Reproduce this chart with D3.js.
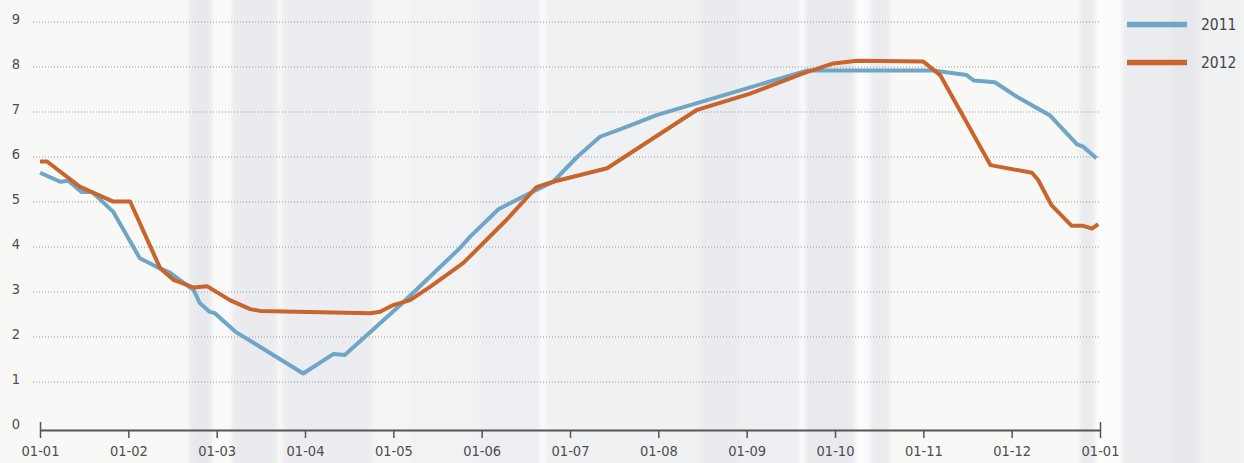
<!DOCTYPE html>
<html>
<head>
<meta charset="utf-8">
<script src="https://cdn.jsdelivr.net/npm/d3@7"></script>
<style>
  html, body { margin: 0; padding: 0; background: #f6f6f6; }
  svg { display: block; font-family: "DejaVu Sans Condensed", "DejaVu Sans", sans-serif; }
</style>
</head>
<body>
<div id="chart"></div>
<script>
// month labels (x = month index 0..12)
const monthLabels = ['01-01', '01-02', '01-03', '01-04', '01-05', '01-06', '01-07',
  '01-08', '01-09', '01-10', '01-11', '01-12', '01-01'];
const yTicks = [0, 1, 2, 3, 4, 5, 6, 7, 8, 9];

const seriesNames = ['2011', '2012'];

// 2011 : position in months, value
const months2011 = [0, 0.23, 0.32, 0.47, 0.59, 0.83, 1.13, 1.32, 1.47, 1.74, 1.81, 1.92, 1.98,
  2.21, 2.98, 3.32, 3.45, 4.08, 4.75, 4.87, 5.19, 5.51, 5.81, 6.08, 6.34, 6.64, 6.98,
  8.68, 10.11, 10.49, 10.57, 10.81, 11.06, 11.43, 11.74, 11.81, 11.96];
const values2011 = [5.65, 5.45, 5.47, 5.22, 5.22, 4.78, 3.75, 3.56, 3.43, 3.04, 2.75, 2.56, 2.53,
  2.12, 1.19, 1.62, 1.6, 2.71, 3.97, 4.23, 4.84, 5.16, 5.45, 6.0, 6.45, 6.67, 6.93,
  7.92, 7.92, 7.82, 7.7, 7.66, 7.34, 6.93, 6.28, 6.23, 5.97];

// 2012
const months2012 = [0, 0.08, 0.45, 0.6, 0.83, 1.02, 1.36, 1.51, 1.74, 1.89, 2.15, 2.38, 2.49,
  3.74, 3.85, 4.0, 4.19, 4.42, 4.79, 5.28, 5.62, 5.81, 6.42, 7.43, 8.04, 8.64, 8.98, 9.25,
  10.0, 10.19, 10.76, 11.23, 11.3, 11.45, 11.68, 11.81, 11.91, 11.98];
const values2012 = [5.9, 5.9, 5.34, 5.21, 5.01, 5.01, 3.53, 3.27, 3.1, 3.13, 2.82, 2.62, 2.58,
  2.53, 2.56, 2.71, 2.82, 3.12, 3.64, 4.6, 5.33, 5.45, 5.75, 7.04, 7.41, 7.86, 8.08, 8.14,
  8.12, 7.82, 5.82, 5.65, 5.49, 4.93, 4.47, 4.47, 4.41, 4.51];

const colors = ['#6fa5c6', '#c8642c'];

// decorative background bands [x0, x1, fill]
const bgBands = [
  [0, 190, '#f8f8f7'], [190, 212, '#e7e9ec'], [212, 232, '#fafafa'], [232, 278, '#e9ebee'],
  [278, 282, '#fdfdfd'], [282, 372, '#ecedf0'], [372, 410, '#f5f5f5'], [410, 480, '#f1f2f4'],
  [480, 540, '#edeef1'], [540, 546, '#fbfbfb'], [546, 700, '#f0f1f3'], [700, 740, '#e9ebee'],
  [740, 800, '#eeeff2'], [800, 805, '#fdfdfd'], [805, 855, '#e8eaed'], [855, 870, '#fcfcfc'],
  [870, 890, '#eaecef'], [890, 1080, '#f8f8f6'], [1080, 1095, '#e9ebee'], [1095, 1122, '#fcfcfc'],
  [1122, 1170, '#ecedf0'], [1170, 1200, '#e6e8eb'], [1200, 1244, '#f0f1f3']
];

const width = 1244, height = 463;
const svg = d3.select('#chart').append('svg')
  .attr('width', width)
  .attr('height', height);

svg.append('defs').append('filter')
  .attr('id', 'soft')
  .attr('x', '-5%').attr('width', '110%')
  .append('feGaussianBlur')
  .attr('stdDeviation', '2.5 0');

svg.append('g')
  .attr('filter', 'url(#soft)')
  .selectAll('rect')
  .data(bgBands)
  .enter().append('rect')
  .attr('x', d => d[0])
  .attr('y', -10)
  .attr('width', d => d[1] - d[0])
  .attr('height', height + 20)
  .attr('fill', d => d[2]);

const x = d3.scaleLinear().domain([0, 12]).range([40, 1100]);
const y = d3.scaleLinear().domain([0, 9]).range([427, 22]);

// gridlines
svg.append('g').selectAll('line')
  .data(yTicks.filter(v => v > 0))
  .enter().append('line')
  .attr('x1', 33).attr('x2', 1100)
  .attr('y1', d => y(d)).attr('y2', d => y(d))
  .attr('stroke', '#999')
  .attr('stroke-width', 1)
  .attr('stroke-dasharray', '1,2');

// y labels
svg.append('g').selectAll('text')
  .data(yTicks)
  .enter().append('text')
  .attr('x', 16)
  .attr('y', d => y(d) + 2)
  .attr('text-anchor', 'middle')
  .attr('font-size', 14.5)
  .attr('fill', '#4d4d4d')
  .text(d => d);

// x axis
const xAxis = d3.axisBottom(x)
  .tickValues(d3.range(0, 13))
  .tickFormat(i => monthLabels[i])
  .tickSize(8)
  .tickSizeOuter(0);

const axisG = svg.append('g')
  .attr('transform', 'translate(0,430)')
  .call(xAxis);
axisG.select('.domain').attr('stroke', '#555').attr('stroke-width', 2);
axisG.selectAll('.tick line').attr('stroke', '#555').attr('stroke-width', 1.5);
axisG.selectAll('.tick text')
  .attr('y', 16)
  .attr('dy', '0.71em')
  .attr('font-size', 14.5)
  .attr('font-family', '"DejaVu Sans Condensed", sans-serif')
  .attr('fill', '#4d4d4d');
// end ticks extend above the axis
axisG.selectAll('.tick line')
  .attr('y1', (d, i) => (i === 0 || i === 12) ? -8 : 0);

// lines
const lineGen = d3.line()
  .x(d => x(d[0]))
  .y(d => y(d[1]));

const series = [
  d3.zip(months2011, values2011),
  d3.zip(months2012, values2012)
];

svg.append('g').selectAll('path')
  .data(series)
  .enter().append('path')
  .attr('d', lineGen)
  .attr('fill', 'none')
  .attr('stroke', (d, i) => colors[i])
  .attr('stroke-width', 4)
  .attr('stroke-linejoin', 'round');

// legend
const legend = svg.append('g').selectAll('g')
  .data(seriesNames)
  .enter().append('g')
  .attr('transform', (d, i) => `translate(1127,${24.5 + i * 38})`);

legend.append('line')
  .attr('x1', 0).attr('x2', 60)
  .attr('stroke', (d, i) => colors[i])
  .attr('stroke-width', 5.5);

legend.append('text')
  .attr('x', 74)
  .attr('y', 5.5)
  .attr('font-size', 15.5)
  .attr('fill', '#444')
  .text(d => d);
</script>
</body>
</html>
